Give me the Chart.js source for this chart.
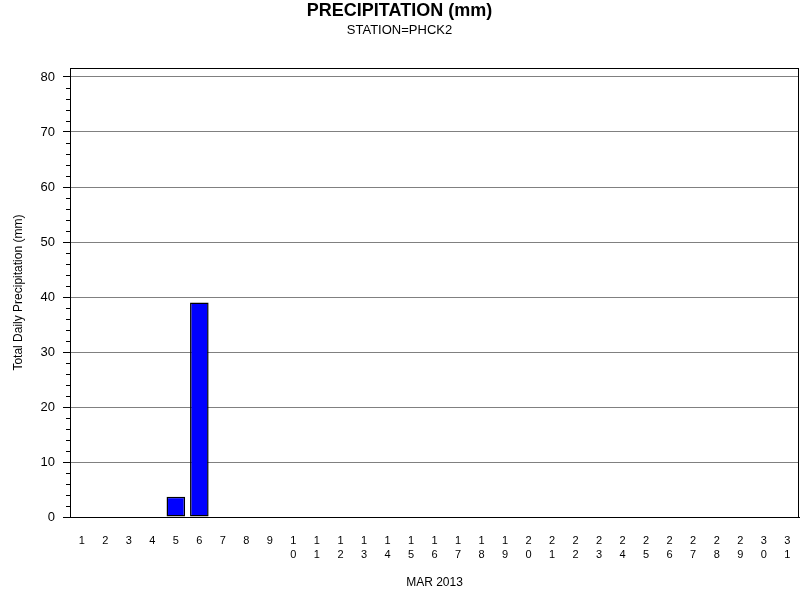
<!DOCTYPE html>
<html>
<head>
<meta charset="utf-8">
<script src="https://cdn.jsdelivr.net/npm/chart.js@4/dist/chart.umd.min.js"></script>
<style>
  html, body { margin: 0; padding: 0; background: #fff; }
  #wrap { width: 800px; height: 600px; }
</style>
</head>
<body>
<div id="wrap"><canvas id="precip" width="800" height="600"></canvas></div>
<script>
// daily totals for March 2013, station PHCK2
const days = ['1','2','3','4','5','6','7','8','9','10','11','12','13','14','15','16',
  '17','18','19','20','21','22','23','24','25','26','27','28','29','30','31'];
const precipMm = [0, 0, 0, 0, 3.7, 39.0, 0, 0, 0, 0, 0, 0, 0, 0, 0, 0,
  0, 0, 0, 0, 0, 0, 0, 0, 0, 0, 0, 0, 0, 0, 0];
const yTicks = [0,2,4,6,8,10,12,14,16,18,20,22,24,26,28,30,32,34,36,38,40,
  42,44,46,48,50,52,54,56,58,60,62,64,66,68,70,72,74,76,78,80];

// two-digit days get stacked one digit above the other
const dayLabels = days.map(d => d.length > 1 ? d.split('') : d);

const FONT = "'Liberation Sans', Arial, sans-serif";

// black frame round the plot + short minor ticks on the y axis
const framePlugin = {
  id: 'frame',
  afterDraw(chart) {
    const { ctx, chartArea: a } = chart;
    const y = chart.scales.y;
    ctx.save();
    ctx.strokeStyle = '#000';
    ctx.lineWidth = 1;
    ctx.strokeRect(Math.round(a.left) + 0.5, Math.round(a.top) + 0.5,
      Math.round(a.right - a.left) - 1, Math.round(a.bottom - a.top));
    ctx.beginPath();
    yTicks.forEach(v => {
      if (v % 10 === 0) return;
      const py = Math.round(y.getPixelForValue(v)) + 0.5;
      ctx.moveTo(a.left - 4, py);
      ctx.lineTo(a.left, py);
    });
    ctx.stroke();
    ctx.restore();
  }
};

new Chart(document.getElementById('precip'), {
  type: 'bar',
  data: {
    labels: dayLabels,
    datasets: [{
      data: precipMm,
      backgroundColor: '#0000ff',
      borderColor: '#000',
      borderWidth: 1.5,
      borderSkipped: false,
      barPercentage: 0.79,
      categoryPercentage: 1.0
    }]
  },
  options: {
    responsive: false,
    animation: false,
    layout: { padding: { left: 0, right: 1, top: 0, bottom: 0 } },
    plugins: {
      legend: { display: false },
      tooltip: { enabled: false },
      title: {
        display: true,
        text: 'PRECIPITATION (mm)',
        color: '#000',
        font: { family: FONT, size: 18, weight: 'bold' },
        padding: { top: 0, bottom: 0 }
      },
      subtitle: {
        display: true,
        text: 'STATION=PHCK2',
        color: '#000',
        font: { family: FONT, size: 13 },
        padding: { top: 1, bottom: 30 }
      }
    },
    scales: {
      x: {
        grid: { display: true, color: 'rgba(0,0,0,0)', drawTicks: true, tickLength: 11, tickColor: 'rgba(0,0,0,0)' },
        border: { color: '#000', width: 1 },
        ticks: {
          color: '#000',
          autoSkip: false,
          maxRotation: 0,
          padding: 6,
          font: { family: FONT, size: 11, lineHeight: '14px' }
        },
        title: {
          display: true,
          text: 'MAR 2013',
          color: '#000',
          font: { family: FONT, size: 12 },
          padding: { top: 0, bottom: 10 }
        },
        afterFit(scale) { scale.height = 83; }
      },
      y: {
        min: 0,
        max: 81.6,
        z: 1,
        afterBuildTicks(scale) { scale.ticks = yTicks.map(v => ({ value: v })); },
        grid: {
          color: ctx => (ctx.tick && ctx.tick.value % 10 === 0 && ctx.tick.value > 0) ? '#808080' : 'rgba(0,0,0,0)',
          tickColor: ctx => (ctx.tick && ctx.tick.value % 10 === 0) ? '#000' : 'rgba(0,0,0,0)',
          tickLength: 7,
          drawTicks: true
        },
        border: { color: '#000', width: 1 },
        ticks: {
          color: '#000',
          autoSkip: false,
          padding: 8,
          font: { family: FONT, size: 13 },
          callback: v => (v % 10 === 0 ? String(v) : '')
        },
        title: {
          display: true,
          text: 'Total Daily Precipitation (mm)',
          color: '#000',
          font: { family: FONT, size: 12 },
          padding: { top: 11, bottom: 0 }
        },
        afterFit(scale) { scale.width = 70; }
      }
    }
  },
  plugins: [framePlugin]
});
</script>
</body>
</html>
